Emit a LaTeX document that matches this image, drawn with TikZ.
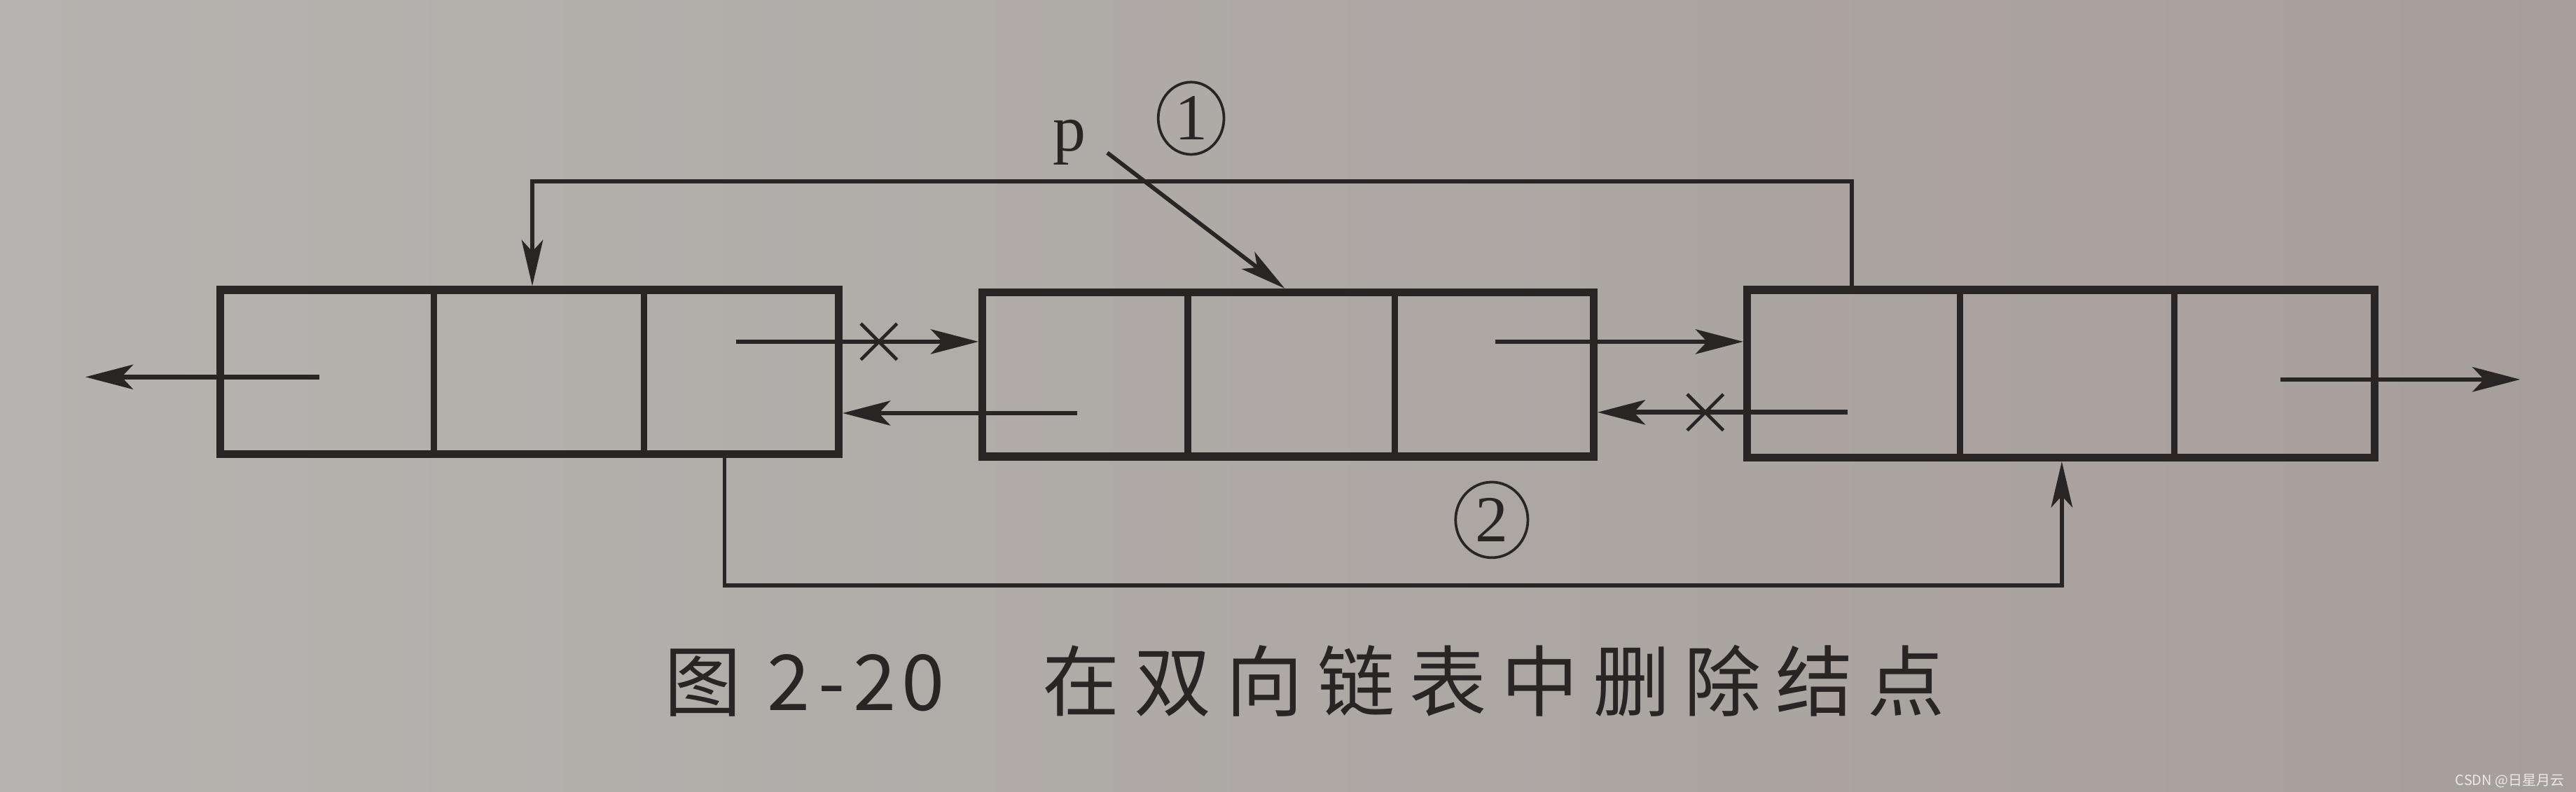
\documentclass[tikz,border=0pt]{standalone}
\usepackage{fontspec}
\setmainfont{Liberation Serif}
\newfontfamily\cjk{Noto Sans CJK SC}
\usetikzlibrary{arrows.meta,calc,shapes.geometric,shapes.misc}
\definecolor{ink}{RGB}{42,37,37}
\definecolor{bgl}{RGB}{182,180,176}
\definecolor{bgr}{RGB}{166,158,155}
\definecolor{wm}{RGB}{236,232,232}
\newcommand{\ks}{\hspace{8.8pt}}
\begin{document}
\begin{tikzpicture}[x=1pt,y=1pt,
  listnode/.style={draw=ink, line width=4.8pt, rectangle, inner sep=0pt, outer sep=0pt},
  divider/.style={draw=ink, line width=4pt},
  ptr/.style={draw=ink, line width=2.8pt, -{Stealth[length=29pt,width=15pt,inset=7pt]}},
  link/.style={draw=ink, line width=2.5pt, -{Stealth[length=28pt,width=13pt,inset=7pt]}},
  xmark/.style={cross out, draw=ink, line width=2pt, minimum size=20pt, inner sep=0pt},
  circnum/.style={ellipse, draw=ink, line width=1.6pt, inner sep=0pt, text=ink, font=\fontsize{40}{40}\selectfont},
]
\shade[left color=bgl, right color=bgr] (0,0) rectangle (1568,-482);
\useasboundingbox (0,0) rectangle (1568,-482);

% list nodes
\node[listnode, minimum width=376.5pt, minimum height=100pt] (n1) at (322.25,-226.5) {};
\node[listnode, minimum width=372pt, minimum height=100pt] (n2) at (784,-228) {};
\node[listnode, minimum width=382pt, minimum height=102pt] (n3) at (1254.5,-227.5) {};

% dividers
\draw[divider] ($(n1.north west)+(130,0)$) -- ($(n1.south west)+(130,0)$);
\draw[divider] ($(n1.north west)+(258,0)$) -- ($(n1.south west)+(258,0)$);
\draw[divider] ($(n2.north west)+(125,0)$) -- ($(n2.south west)+(125,0)$);
\draw[divider] ($(n2.north west)+(251,0)$) -- ($(n2.south west)+(251,0)$);
\draw[divider] ($(n3.north west)+(129.5,0)$) -- ($(n3.south west)+(129.5,0)$);
\draw[divider] ($(n3.north west)+(260,0)$) -- ($(n3.south west)+(260,0)$);

% pointer arrows
\coordinate (a1s) at (448,-208);
\draw[ptr] (a1s) -- ($(n2.west |- a1s)+(-2.4,0)$);
\node[xmark] (x1) at (535,-208) {};
\coordinate (a2s) at (655.5,-251.5);
\draw[ptr] (a2s) -- ($(n1.east |- a2s)+(2.4,0)$);
\coordinate (a3s) at (910,-208);
\draw[ptr] (a3s) -- ($(n3.west |- a3s)+(-2.4,0)$);
\coordinate (a4s) at (1124.5,-251);
\draw[ptr] (a4s) -- ($(n2.east |- a4s)+(2.4,0)$);
\node[xmark] (x2) at (1038,-251) {};
\coordinate (a5s) at (194.5,-229.5);
\coordinate (a5e) at (52,-229.5);
\draw[ptr] (a5s) -- (a5e);
\coordinate (a6s) at (1388,-231);
\coordinate (a6e) at (1534,-231);
\draw[ptr] (a6s) -- (a6e);

% relinking connectors
\draw[link] ($(n3.north west)+(63.5,0)$) -- ++(0,66) -| ($(n1.north west)+(190,2.4)$);
\draw[link] ($(n1.south west)+(307,0)$) -- ++(0,-80) -| ($(n3.south west)+(191.5,-2.4)$);

% p pointer
\node[anchor=base, text=ink, font=\fontsize{40}{40}\selectfont, inner sep=0pt] (p) at (651,-92) {p};
\coordinate (ps) at (674,-93);
\draw[link] (ps) -- ($(n2.north west)+(184,2.4)$);

% step labels
\node[circnum, minimum width=40pt, minimum height=44pt] (c1) at (725,-72) {1};
\node[circnum, minimum width=44pt, minimum height=46pt] (c2) at (908,-316.5) {2};

% caption
\node[anchor=base west, inner sep=0pt, text=ink, font=\cjk\fontsize{47}{47}\selectfont] (cap) at (404,-432.7)
  {图\hspace{16pt}\makebox[167.5pt][l]{2\kern5pt-\kern5pt2\kern3pt0}在\ks 双\ks 向\ks 链\ks 表\ks 中\ks 删\ks 除\ks 结\ks 点};

% watermark
\node[anchor=base east, inner sep=0pt, text=wm, font=\cjk\fontsize{8.5}{8.5}\selectfont] (wmark) at (1561,-478) {CSDN @日星月云};
\end{tikzpicture}
\end{document}
